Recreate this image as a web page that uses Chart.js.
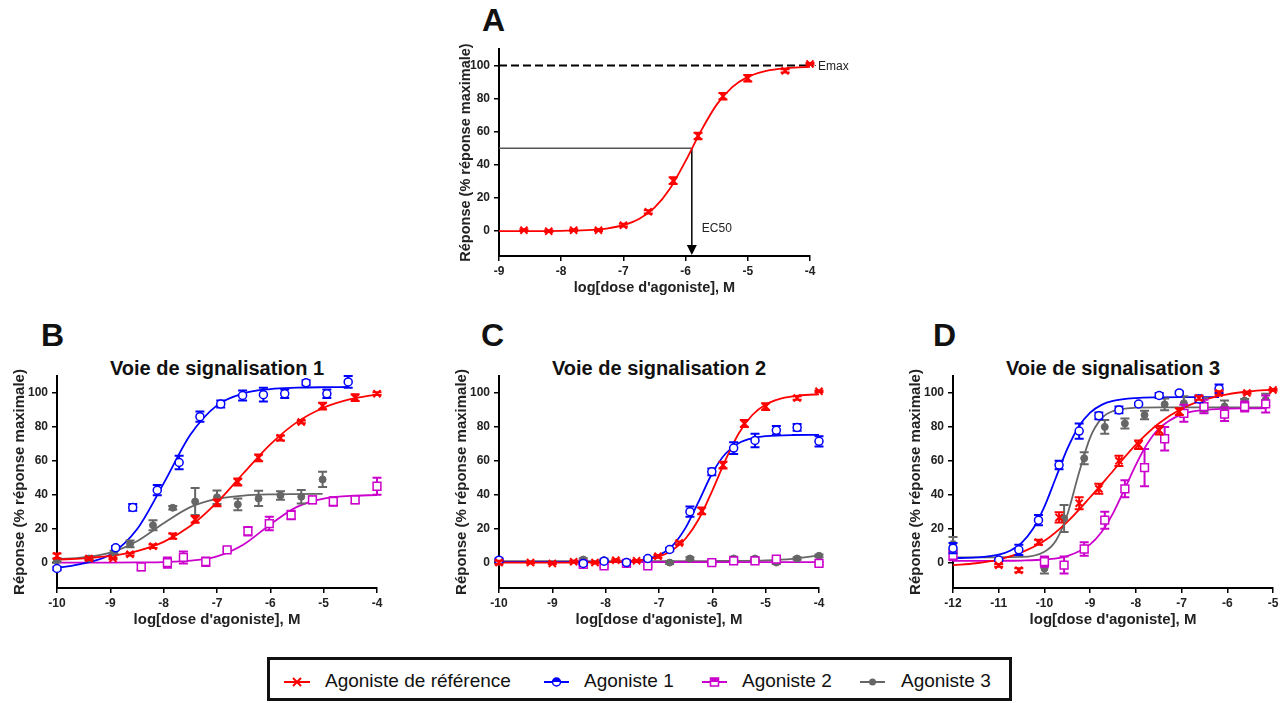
<!DOCTYPE html>
<html lang="fr">
<head>
<meta charset="utf-8">
<title>Courbes dose-réponse</title>
<script src="https://cdn.jsdelivr.net/npm/chart.js@4.4.1/dist/chart.umd.min.js"></script>
<style>
  body { margin: 0; background: #fff; width: 1283px; height: 703px; position: relative; overflow: hidden;
         font-family: "Liberation Sans", Arial, sans-serif; color: #111; }
  canvas { position: absolute; }
  .letter { position: absolute; font-size: 32px; font-weight: bold; line-height: 32px; }
  .ptitle { position: absolute; width: 320px; text-align: center; font-size: 20px; font-weight: bold; line-height: 20px; }
  #legend { position: absolute; left: 267px; top: 657px; width: 739px; height: 38px; border: 3px solid #111; }
  #legend svg { position: absolute; left: 0; top: 0; }
  #legend span { position: absolute; top: 11px; font-size: 19px; line-height: 19px; white-space: nowrap; }
</style>
</head>
<body>

<div class="letter" style="left:482px;top:4px">A</div>
<div class="letter" style="left:41px;top:319px">B</div>
<div class="letter" style="left:481px;top:319px">C</div>
<div class="letter" style="left:933px;top:319px">D</div>

<div class="ptitle" style="left:57px;top:358px">Voie de signalisation 1</div>
<div class="ptitle" style="left:499px;top:358px">Voie de signalisation 2</div>
<div class="ptitle" style="left:953px;top:358px">Voie de signalisation 3</div>

<canvas id="chartA" width="430" height="277" style="left:442px;top:29px"></canvas>
<canvas id="chartB" width="420" height="282" style="left:0px;top:356px"></canvas>
<canvas id="chartC" width="420" height="282" style="left:442px;top:356px"></canvas>
<canvas id="chartD" width="387" height="282" style="left:896px;top:356px"></canvas>

<div id="legend">
  <svg width="739" height="38">
    <line x1="14" y1="22" x2="40" y2="22" stroke="#ff0000" stroke-width="2"/>
    <path d="M23 18 L31 26 M23 26 L31 18" stroke="#ff0000" stroke-width="2"/>
    <line x1="274" y1="22" x2="299" y2="22" stroke="#0000ff" stroke-width="2"/>
    <circle cx="286.5" cy="22" r="4" fill="#fff" stroke="#0000ff" stroke-width="1.5"/>
    <path d="M282.5 22 A4 4 0 0 1 290.5 22 Z" fill="#0000ff"/>
    <line x1="432" y1="22" x2="457" y2="22" stroke="#cc00cc" stroke-width="2"/>
    <rect x="440.5" y="18" width="8" height="8" fill="#fff" stroke="#cc00cc" stroke-width="1.5"/>
    <rect x="440.5" y="18" width="8" height="4" fill="#cc00cc"/>
    <line x1="590" y1="22" x2="615" y2="22" stroke="#666" stroke-width="2"/>
    <circle cx="602.5" cy="22" r="3.5" fill="#666"/>
  </svg>
  <span style="left:55px">Agoniste de référence</span>
  <span style="left:314px">Agoniste 1</span>
  <span style="left:472px">Agoniste 2</span>
  <span style="left:631px">Agoniste 3</span>
</div>

<script>
// ---- axes ----
const yTicks = [0, 20, 40, 60, 80, 100];
const xTicksA = [-9, -8, -7, -6, -5, -4];
const xTicksBC = [-10, -9, -8, -7, -6, -5, -4];
const xTicksD = [-12, -11, -10, -9, -8, -7, -6, -5];

// ---- A : agoniste de référence ----
const doseA = [-8.6, -8.2, -7.8, -7.4, -7.0, -6.6, -6.2, -5.8, -5.4, -5.0, -4.4, -4.0];
const refA = [0.6, 0, 0.6, 0.6, 3.6, 11.7, 30.5, 57.5, 81.5, 92.3, 96.8, 101];
const refErrA = [0.5, 0.5, 0.5, 0.5, 0.8, 1, 2, 2, 2, 2, 1, 0.5];
const fitDoseA = [-9, -8.5, -8, -7.5, -7.25, -7, -6.75, -6.5, -6.25, -6, -5.75, -5.5, -5.25, -5, -4.75, -4.5, -4.25, -4];
const fitRefA = [0, 0, 0.2, 0.8, 1.7, 3.6, 7.3, 14.2, 25.8, 42.4, 60.7, 76.4, 87.0, 93.2, 96.4, 98.0, 98.8, 99.2];
const emaxA = 100;
const ec50A = -5.9;

// ---- B : voie de signalisation 1 ----
const refDoseB = [-10, -9.4, -8.95, -8.63, -8.2, -7.83, -7.41, -7.0, -6.61, -6.22, -5.81, -5.42, -5.02, -4.41, -4.0];
const refB = [3.9, 2.4, 2.4, 4.9, 9.6, 15.6, 25.4, 35.2, 47.5, 61.7, 73.4, 82.9, 92.3, 97.2, 99.6];
const refErrB = [1.5, 0.8, 0.5, 0.8, 1, 1.5, 2, 2, 2, 2, 1.5, 0.8, 2, 2, 0.8];
const ag1DoseB = [-10, -8.9, -8.58, -8.12, -7.71, -7.32, -6.93, -6.52, -6.13, -5.73, -5.33, -4.94, -4.54];
const ag1B = [-3.5, 8.7, 32.5, 42.7, 59, 86, 93.5, 98.5, 99, 99.5, 106, 99.5, 106.5];
const ag1ErrB = [1, 1, 2, 3, 4, 3, 2, 3, 4, 2.5, 1.5, 2.5, 3.5];
const ag2DoseB = [-8.42, -7.93, -7.63, -7.21, -6.81, -6.42, -6.02, -5.61, -5.21, -4.82, -4.41, -4.0];
const ag2B = [-2.5, 0, 3, 0.5, 7.5, 18.5, 23, 28, 37, 36, 37, 45];
const ag2ErrB = [2, 3, 3.5, 2.5, 1, 2.5, 4, 2.5, 2, 2.5, 2, 5];
const ag3DoseB = [-10, -9.4, -8.93, -8.63, -8.2, -7.83, -7.41, -7.0, -6.61, -6.22, -5.81, -5.42, -5.02];
const ag3B = [1.4, 2.4, 6, 11, 22, 32.3, 36, 38.5, 34.3, 37.8, 39.6, 38.8, 49];
const ag3ErrB = [1, 1, 1, 2, 3, 1, 8, 4, 3.5, 4.5, 2.5, 4, 4.5];
const fitRefDoseB = [-10, -9.5, -9, -8.5, -8, -7.5, -7, -6.5, -6, -5.5, -5, -4.5, -4];
const fitRefB = [1.7, 2.5, 3.9, 6.8, 12.2, 21.5, 35.5, 52.8, 69.7, 82.8, 91.3, 96.3, 99.2];
const fitAg1DoseB = [-10, -9.5, -9, -8.5, -8, -7.5, -7, -6.5, -6, -5.5, -5, -4.54];
const fitAg1B = [-3.3, -0.5, 4.8, 19.6, 46.7, 75.3, 92.7, 99.8, 102.3, 103.1, 103.4, 103.5];
const fitAg2DoseB = [-10, -9, -8.5, -8, -7.5, -7, -6.5, -6, -5.5, -5, -4.5, -4];
const fitAg2B = [0, 0, 0.1, 0.3, 1.1, 3.7, 10.7, 22.5, 32.8, 37.7, 39.3, 39.8];
const fitAg3DoseB = [-10, -9.5, -9, -8.5, -8, -7.5, -7, -6.5, -6, -5.5, -5.02];
const fitAg3B = [2.0, 3.0, 5.9, 12.6, 23.2, 32.7, 37.6, 39.5, 40.2, 40.4, 40.5];

// ---- C : voie de signalisation 2 ----
const refDoseC = [-10, -9.41, -9.0, -8.6, -8.2, -7.81, -7.42, -7.02, -6.62, -6.2, -5.8, -5.4, -5.0, -4.41, -4.0];
const refC = [0, 0, -0.5, 0.5, 0, 1.4, 1, 3.7, 11.6, 30.5, 57.5, 82, 92, 97, 101];
const refErrC = [1, 0.5, 0.5, 0.5, 0.5, 0.5, 0.5, 0.8, 0.8, 2, 2, 2, 2, 1, 0.5];
const ag1DoseC = [-10, -8.42, -8.03, -7.61, -7.21, -6.8, -6.42, -6.01, -5.6, -5.2, -4.8, -4.41, -4.0];
const ag1C = [1.4, -0.5, 0.8, 0, 2.4, 7.7, 30, 53.5, 67.5, 72, 78, 79.7, 71.5];
const ag1ErrC = [1, 0.5, 0.5, 0.5, 0.8, 1, 3, 2, 3.5, 4, 2.5, 2, 3];
const ag2DoseC = [-8.42, -8.03, -7.61, -7.21, -6.01, -5.6, -5.2, -4.8, -4.0];
const ag2C = [-1, -2, -0.5, -2, 0, 1, 1, 2, -0.5];
const ag2ErrC = [0.8, 0.8, 0.8, 0.8, 0.8, 0.8, 0.8, 0.8, 0.8];
const ag3DoseC = [-10, -8.42, -8.03, -7.61, -6.8, -6.42, -6.01, -5.6, -5.2, -4.8, -4.41, -4.0];
const ag3C = [0.5, 1.8, 1.4, 0.4, 0, 2.4, 0, 2.4, 2.4, 0, 2.4, 4];
const ag3ErrC = [0.5, 0.8, 0.8, 0.8, 0.8, 0.8, 0.8, 1, 0.8, 0.8, 0.8, 0.8];
const fitRefDoseC = [-10, -9, -8.5, -8, -7.5, -7.25, -7, -6.75, -6.5, -6.25, -6, -5.75, -5.5, -5.25, -5, -4.75, -4.5, -4.25, -4];
const fitRefC = [0, 0, 0, 0.2, 0.8, 1.7, 3.6, 7.3, 14.2, 25.8, 42.4, 60.7, 76.4, 87.0, 93.2, 96.4, 98.0, 98.8, 99.2];
const fitAg1DoseC = [-10, -9, -8, -7.5, -7.25, -7, -6.75, -6.5, -6.25, -6, -5.75, -5.5, -5.25, -5, -4.5, -4];
const fitAg1C = [0.3, 0.3, 0.4, 1.0, 2.0, 4.4, 9.9, 20.6, 36.4, 52.8, 64.3, 70.5, 73.3, 74.5, 75.2, 75.3];
const fitAg2DoseC = [-10, -7, -4];
const fitAg2C = [0.3, 0.3, 0.3];
const fitAg3DoseC = [-10, -8, -7, -6, -5.5, -5, -4.5, -4];
const fitAg3C = [0.8, 0.8, 0.8, 0.9, 1.0, 1.3, 2.2, 4.2];

// ---- D : voie de signalisation 3 ----
const refDoseD = [-11.0, -10.56, -10.13, -9.68, -9.24, -8.81, -8.37, -7.94, -7.49, -7.05, -6.62, -6.18, -5.57, -5.0];
const refD = [-1.6, -4.5, 12, 26.6, 35, 43.5, 60, 69.5, 78, 89, 97, 100, 100, 101.8];
const refErrD = [0.8, 1.2, 1.5, 3, 3.5, 3, 3, 2.5, 2.5, 2, 1, 1, 0.5, 0.5];
const ag1DoseD = [-12, -11.0, -10.56, -10.13, -9.68, -9.24, -8.81, -8.37, -7.94, -7.49, -7.05, -6.62, -6.18];
const ag1D = [8.5, 1.5, 7.5, 25, 57.5, 77.5, 86.5, 90, 93.5, 98.5, 100, 96.5, 102.5];
const ag1ErrD = [3, 0.5, 3, 3, 2.5, 4.5, 2, 2, 0.8, 1.5, 0.8, 2, 2.5];
const ag2DoseD = [-12, -10.0, -9.57, -9.13, -8.68, -8.24, -7.81, -7.37, -6.95, -6.51, -6.06, -5.62, -5.16];
const ag2D = [4.3, 0.5, -1.5, 8, 25, 43.5, 56, 73, 88, 92, 87.5, 92, 93.5];
const ag2ErrD = [3, 3, 5, 4, 5, 5, 11, 7, 5, 4, 4, 3, 5];
const ag3DoseD = [-12, -10.0, -9.57, -9.13, -8.68, -8.24, -7.81, -7.37, -6.95, -6.51, -6.06, -5.62, -5.16];
const ag3D = [11, -3.5, 26, 61.5, 80, 82, 87, 93.3, 94, 93, 92, 95.5, 96];
const ag3ErrD = [4, 3, 8, 3.5, 4, 3, 2.5, 3.5, 4, 4, 3.5, 1, 3.5];
const fitRefDoseD = [-12, -11.5, -11, -10.5, -10, -9.5, -9, -8.5, -8, -7.5, -7, -6.5, -6, -5.5, -5];
const fitRefD = [-1.6, -0.4, 1.8, 6, 12.8, 24, 38.5, 54, 69.5, 82, 90.7, 96.1, 99.2, 101.0, 102.0];
const fitAg1DoseD = [-12, -11.5, -11, -10.75, -10.5, -10.25, -10, -9.75, -9.5, -9.25, -9, -8.75, -8.5, -8, -7.5, -7, -6.18];
const fitAg1D = [2.6, 3.0, 4.7, 7.0, 11.6, 19.9, 33.0, 50, 67.0, 80.1, 88.4, 93.0, 95.3, 97.0, 97.4, 97.5, 97.5];
const fitAg2DoseD = [-12, -11, -10.5, -10, -9.5, -9, -8.75, -8.5, -8.25, -8, -7.75, -7.5, -7, -6.5, -6, -5.5, -5.16];
const fitAg2D = [1, 1.05, 1.2, 1.8, 3.8, 10.7, 18, 29, 43.1, 57.6, 70, 78.8, 87.4, 90, 90.7, 90.9, 91];
const fitAg3DoseD = [-12, -10.5, -10, -9.75, -9.5, -9.25, -9, -8.75, -8.5, -8, -7.5, -5.16];
const fitAg3D = [3, 3.3, 6.4, 12.9, 28.2, 52.3, 73.7, 85, 89.3, 91.3, 91.5, 91.5];

// ---- styles ----
const family = '"Liberation Sans", Arial, sans-serif';
const styles = {
  ref: { color: '#ff0000', pointStyle: 'crossRot', radius: 5, fill: '#ff0000', bw: 2 },
  ag1: { color: '#0000ff', pointStyle: 'circle', radius: 4, fill: '#ffffff', bw: 1.5 },
  ag2: { color: '#cc00cc', pointStyle: 'rect', radius: 5.5, fill: '#ffffff', bw: 1.5 },
  ag3: { color: '#666666', pointStyle: 'circle', radius: 3.5, fill: '#666666', bw: 1 }
};

function points(dose, vals, errs, st) {
  return {
    data: dose.map((x, i) => ({ x: x, y: vals[i] })),
    errors: errs,
    showLine: false,
    pointStyle: st.pointStyle,
    pointRadius: st.radius,
    pointBorderWidth: st.bw,
    borderColor: st.color,
    backgroundColor: st.fill,
    clip: false
  };
}

function curve(dose, vals, st) {
  return {
    data: dose.map((x, i) => ({ x: x, y: vals[i] })),
    showLine: true,
    pointRadius: 0,
    borderColor: st.color,
    borderWidth: 1.8,
    cubicInterpolationMode: 'monotone',
    clip: false
  };
}

// barres d'erreur dessinées sous chaque série de points
const errorBars = {
  id: 'errorBars',
  beforeDatasetDraw(chart, args) {
    const ds = chart.data.datasets[args.index];
    if (!ds.errors) return;
    const yScale = chart.scales.y;
    const ctx = chart.ctx;
    ctx.save();
    ctx.strokeStyle = ds.borderColor;
    ctx.lineWidth = 2;
    args.meta.data.forEach((pt, i) => {
      const e = ds.errors[i];
      const v = ds.data[i].y;
      const top = yScale.getPixelForValue(v + e);
      const bot = yScale.getPixelForValue(v - e);
      ctx.beginPath();
      ctx.moveTo(pt.x, top); ctx.lineTo(pt.x, bot);
      ctx.moveTo(pt.x - 4.5, top); ctx.lineTo(pt.x + 4.5, top);
      ctx.moveTo(pt.x - 4.5, bot); ctx.lineTo(pt.x + 4.5, bot);
      ctx.stroke();
    });
    ctx.restore();
  }
};

// EC50 / Emax sur le panneau A
const annotA = {
  id: 'annotA',
  beforeDatasetsDraw(chart) {
    const { ctx, scales: { x, y } } = chart;
    const ex = x.getPixelForValue(ec50A);
    const ey = y.getPixelForValue(50);
    const bottom = y.getPixelForValue(y.min);
    ctx.save();
    ctx.lineWidth = 1.5;
    ctx.strokeStyle = '#555';
    ctx.beginPath(); ctx.moveTo(x.getPixelForValue(x.min), ey); ctx.lineTo(ex, ey); ctx.stroke();
    ctx.strokeStyle = '#000';
    ctx.beginPath(); ctx.moveTo(ex, ey); ctx.lineTo(ex, bottom - 8); ctx.stroke();
    ctx.restore();
  },
  afterDatasetsDraw(chart) {
    const { ctx, scales: { x, y } } = chart;
    const ex = x.getPixelForValue(ec50A);
    const bottom = y.getPixelForValue(y.min);
    const mx = x.getPixelForValue(x.max);
    const my = y.getPixelForValue(emaxA);
    ctx.save();
    ctx.fillStyle = '#000';
    ctx.beginPath();
    ctx.moveTo(ex, bottom - 1);
    ctx.lineTo(ex - 5, bottom - 11);
    ctx.lineTo(ex + 5, bottom - 11);
    ctx.closePath();
    ctx.fill();
    ctx.font = '12px ' + family;
    ctx.fillStyle = '#222';
    ctx.textBaseline = 'middle';
    ctx.fillText('EC50', ex + 10, y.getPixelForValue(0) - 2);
    ctx.fillText('Emax', mx + 8, my + 1);
    ctx.strokeStyle = '#444';
    ctx.lineWidth = 1;
    ctx.setLineDash([1, 2]);
    ctx.beginPath(); ctx.moveTo(mx + 2, my); ctx.lineTo(mx + 7, my); ctx.stroke();
    ctx.restore();
  }
};

function makeChart(id, xTicks, padRight, datasets, opts) {
  const titleSize = opts.titleSize;
  const half = titleSize * 0.6;
  return new Chart(document.getElementById(id), {
    type: 'scatter',
    data: { datasets: datasets },
    options: {
      responsive: false,
      animation: false,
      events: [],
      layout: { padding: { top: 20, right: padRight, left: 0, bottom: 0 } },
      plugins: { legend: { display: false }, tooltip: { enabled: false } },
      scales: {
        x: {
          type: 'linear',
          min: xTicks[0],
          max: xTicks[xTicks.length - 1],
          afterBuildTicks: s => { s.ticks = xTicks.map(v => ({ value: v })); },
          afterFit: s => { s.height = 50; },
          border: { color: '#000', width: 2 },
          grid: { drawOnChartArea: false, color: '#000', lineWidth: 1.5, tickLength: 5 },
          ticks: { color: '#222', padding: 3, maxRotation: 0, autoSkip: false,
                   font: { family: family, size: 12, weight: 'bold' }, callback: v => String(v) },
          title: { display: true, text: "log[dose d'agoniste], M", color: '#222',
                   font: { family: family, size: titleSize, weight: 'bold' },
                   padding: { top: 0, bottom: 50 - 32 - half } }
        },
        y: {
          type: 'linear',
          min: -15,
          max: 110,
          afterBuildTicks: s => { s.ticks = yTicks.map(v => ({ value: v })); },
          afterFit: s => { s.width = 57; },
          border: { color: '#000', width: 2 },
          grid: { drawOnChartArea: false, color: '#000', lineWidth: 1.5, tickLength: 5 },
          ticks: { color: '#222', padding: 4, font: { family: family, size: 12, weight: 'bold' },
                   callback: v => String(v) },
          title: { display: true, text: 'Réponse (% réponse maximale)', color: '#222',
                   font: { family: family, size: titleSize, weight: 'bold' },
                   padding: { top: opts.yTitleOffset - half, bottom: 0 } }
        }
      }
    },
    plugins: [errorBars].concat(opts.plugins || [])
  });
}

const S = styles;

makeChart('chartA', xTicksA, 62, [
  points(doseA, refA, refErrA, S.ref),
  curve(fitDoseA, fitRefA, S.ref),
  { data: [{ x: xTicksA[0], y: emaxA }, { x: xTicksA[xTicksA.length - 1], y: emaxA }],
    showLine: true, pointRadius: 0, borderColor: '#000', borderWidth: 2, borderDash: [8, 4], clip: false }
], { titleSize: 14.5, yTitleOffset: 24, plugins: [annotA] });

makeChart('chartB', xTicksBC, 43, [
  points(refDoseB, refB, refErrB, S.ref),
  points(ag1DoseB, ag1B, ag1ErrB, S.ag1),
  points(ag2DoseB, ag2B, ag2ErrB, S.ag2),
  points(ag3DoseB, ag3B, ag3ErrB, S.ag3),
  curve(fitRefDoseB, fitRefB, S.ref),
  curve(fitAg1DoseB, fitAg1B, S.ag1),
  curve(fitAg2DoseB, fitAg2B, S.ag2),
  curve(fitAg3DoseB, fitAg3B, S.ag3)
], { titleSize: 15, yTitleOffset: 20 });

makeChart('chartC', xTicksBC, 43, [
  points(refDoseC, refC, refErrC, S.ref),
  points(ag1DoseC, ag1C, ag1ErrC, S.ag1),
  points(ag2DoseC, ag2C, ag2ErrC, S.ag2),
  points(ag3DoseC, ag3C, ag3ErrC, S.ag3),
  curve(fitRefDoseC, fitRefC, S.ref),
  curve(fitAg1DoseC, fitAg1C, S.ag1),
  curve(fitAg2DoseC, fitAg2C, S.ag2),
  curve(fitAg3DoseC, fitAg3C, S.ag3)
], { titleSize: 15, yTitleOffset: 20 });

makeChart('chartD', xTicksD, 10, [
  points(refDoseD, refD, refErrD, S.ref),
  points(ag1DoseD, ag1D, ag1ErrD, S.ag1),
  points(ag2DoseD, ag2D, ag2ErrD, S.ag2),
  points(ag3DoseD, ag3D, ag3ErrD, S.ag3),
  curve(fitRefDoseD, fitRefD, S.ref),
  curve(fitAg1DoseD, fitAg1D, S.ag1),
  curve(fitAg2DoseD, fitAg2D, S.ag2),
  curve(fitAg3DoseD, fitAg3D, S.ag3)
], { titleSize: 15, yTitleOffset: 20 });
</script>
</body>
</html>
